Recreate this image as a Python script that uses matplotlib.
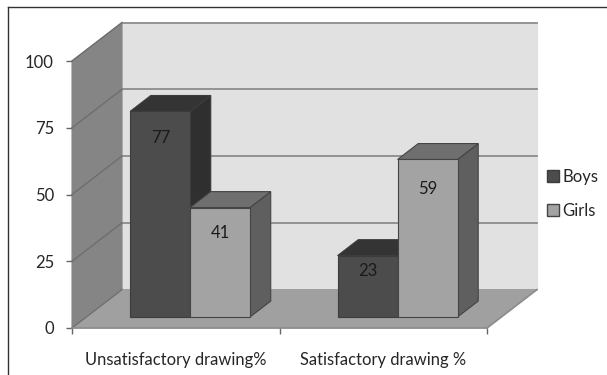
import matplotlib
matplotlib.use("Agg")
import matplotlib.pyplot as plt
from matplotlib.lines import Line2D
from matplotlib.patches import Patch

plt.rcParams['font.family'] = ['Lato', 'DejaVu Sans']

categories = ["Unsatisfactory drawing%", "Satisfactory drawing %"]
series_names = ["Boys", "Girls"]
boys = [77, 23]
girls = [41, 59]
y_ticks = [0, 25, 50, 75, 100]

# how far each value label sits below its bar top, in points
label_drop = {"Boys": [19.5, 11], "Girls": [18, 21.5]}

# oblique projection: a point at depth 1 is shifted by this much in data units
DX = 0.241
DY = 14.4
BAR_W = 0.289
BAR_D0 = 0.286
BAR_D1 = 0.70

W, H = 607, 375
fig = plt.figure(figsize=(W / 100, H / 100), dpi=100)
ax = fig.add_axes([72 / W, 1 - 328 / H, 415 / W, 267 / H])
ax.set_xlim(0, 2)
ax.set_ylim(0, 100)


def proj(x, y, d):
    return x + d * DX, y + d * DY


def face(pts, color, edge=None, lw=0.8, z=1):
    xs, ys = zip(*pts)
    ax.fill(xs, ys, facecolor=color, edgecolor=edge or color, linewidth=lw,
            clip_on=False, zorder=z)


# walls and floor
face([proj(0, 0, 1), proj(2, 0, 1), proj(2, 100, 1), proj(0, 100, 1)], "#e1e1e1", z=1)
face([proj(0, 0, 0), proj(0, 0, 1), proj(0, 100, 1), proj(0, 100, 0)], "#858585", z=1)
face([proj(0, 0, 0), proj(2, 0, 0), proj(2, 0, 1), proj(0, 0, 1)], "#a0a0a0", z=1)

# gridlines run along the back wall and down the side wall
for t in y_ticks:
    x0, y0 = proj(0, t, 1)
    x1, y1 = proj(2, t, 1)
    x2, y2 = proj(0, t, 0)
    if t > 0:
        ax.plot([x0, x1], [y0, y1], color="#8c8c8c", lw=1.3, clip_on=False, zorder=2)
    ax.plot([x2, x0], [y2, y0], color="#6e6e6e", lw=1.0, clip_on=False, zorder=2)
ax.plot([2, 2 + DX], [0, DY], color="#8c8c8c", lw=1.2, clip_on=False, zorder=2)
ax.plot([0, 2], [0, 0], color="#8c8c8c", lw=1.2, clip_on=False, zorder=2)


def bar3d(x, v, front, top, side, edge, z):
    l, r = x, x + BAR_W
    face([proj(r, 0, BAR_D0), proj(r, 0, BAR_D1), proj(r, v, BAR_D1), proj(r, v, BAR_D0)],
         side, edge, z=z)
    face([proj(l, v, BAR_D0), proj(r, v, BAR_D0), proj(r, v, BAR_D1), proj(l, v, BAR_D1)],
         top, edge, z=z)
    face([proj(l, 0, BAR_D0), proj(r, 0, BAR_D0), proj(r, v, BAR_D0), proj(l, v, BAR_D0)],
         front, edge, z=z)


for i in range(len(categories)):
    centre = i + 0.5
    bar3d(centre - BAR_W, boys[i], "#4c4c4c", "#343434", "#2f2f2f", "#3c3c3c", 3 + 2 * i)
    bar3d(centre, girls[i], "#a3a3a3", "#6f6f6f", "#5f5f5f", "#444444", 4 + 2 * i)
    bx, by = proj(centre - BAR_W / 2, boys[i], BAR_D0)
    ax.annotate(str(boys[i]), (bx, by), xytext=(0.5, -label_drop["Boys"][i]),
                textcoords="offset points", ha="center", va="center",
                fontsize=12, color="#1a1a1a", zorder=20)
    gx, gy = proj(centre + BAR_W / 2, girls[i], BAR_D0)
    ax.annotate(str(girls[i]), (gx, gy), xytext=(0, -label_drop["Girls"][i]),
                textcoords="offset points", ha="center", va="center",
                fontsize=12, color="#1a1a1a", zorder=20)

# axes
for s in ax.spines.values():
    s.set_visible(False)
ax.patch.set_visible(False)
ax.set_yticks(y_ticks)
ax.set_xticks([0, 1, 2])
ax.set_xticklabels([])
ax.set_xticks([0.5, 1.5], categories, minor=True)
ax.tick_params(axis="x", which="major", length=4, width=1, color="#666666")
ax.tick_params(axis="x", which="minor", length=0, pad=17, labelsize=11.9, labelcolor="#262626")
ax.tick_params(axis="y", length=4, width=1, color="#666666", pad=9, labelsize=12, labelcolor="#262626")

handles = [Patch(facecolor="#4c4c4c", edgecolor="#3c3c3c", label=series_names[0]),
           Patch(facecolor="#a3a3a3", edgecolor="#444444", label=series_names[1])]
fig.legend(handles=handles, loc="center left", bbox_to_anchor=(532 / W, 1 - 194 / H),
           frameon=False, fontsize=12, handlelength=0.72, handleheight=0.72,
           handletextpad=0.2, labelspacing=1.1, labelcolor="#262626")

# chart frame, only its top and left edges fall inside the image
fig.add_artist(Line2D([8 / W, 8 / W], [0, 1 - 7 / H], color="#333333", lw=1))
fig.add_artist(Line2D([8 / W, 1], [1 - 7 / H, 1 - 7 / H], color="#333333", lw=1))

fig.savefig("out.png", dpi=100)
